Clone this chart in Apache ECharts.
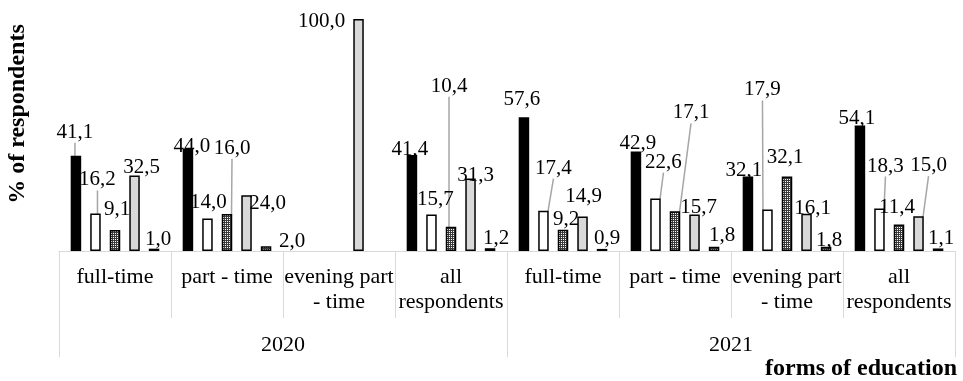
<!DOCTYPE html>
<html><head><meta charset="utf-8">
<script src="https://cdn.jsdelivr.net/npm/echarts@6/dist/echarts.min.js"></script>
<style>html,body{margin:0;padding:0;background:#fff}#c{width:963px;height:381px}</style>
</head><body><div id="c"></div>
<script>
// ---- data ----
const categories = ['full-time', 'part - time', 'evening part\n- time', 'all\nrespondents',
                    'full-time', 'part - time', 'evening part\n- time', 'all\nrespondents'];
const years = ['2020', '2021'];
const series1 = [41.1, 44.0, null, 41.4, 57.6, 42.9, 32.1, 54.1];
const series2 = [16.2, 14.0, null, 15.7, 17.4, 22.6, 17.9, 18.3];
const series3 = [9.1, 16.0, null, 10.4, 9.2, 17.1, 32.1, 11.4];
const series4 = [32.5, 24.0, 100.0, 31.3, 14.9, 15.7, 16.1, 15.0];
const series5 = [1.0, 2.0, null, 1.2, 0.9, 1.8, 1.8, 1.1];
const yAxisTitle = '% of respondents';
const xAxisTitle = 'forms of education';

// ---- label placement (style) ----
const labelOffsets = [
  [[-1,-8],[4,13],[0,0],[-2,10],[-2,-2],[2,8],[-4,9],[-3,8]],
  [[2,-18],[1,-1],[0,0],[4,0],[10,-27],[8,-21],[-5,-104],[6,-27]],
  [[2,-5],[5,-50],[0,0],[-2,-125],[3,5],[16,-83],[-2,-4],[-2,-2]],
  [[7,7],[21,24],[-37,18],[5,13],[1,-4],[4,8],[6,10],[10,-35]],
  [[4,6],[26,11],[0,0],[6,6],[5,5],[8,4],[3,9],[3,6]]
];
const leaderLines = [
  [1,0,0,0,0,0,0,0],
  [1,0,0,0,1,1,1,1],
  [0,1,0,1,0,1,0,0],
  [0,0,0,0,0,0,0,1],
  [0,0,0,0,0,0,0,0]
];

function makePattern() {
  const c = document.createElement('canvas');
  c.width = 4; c.height = 4;
  const ctx = c.getContext('2d');
  ctx.fillStyle = '#3a3a3a';
  ctx.fillRect(0, 0, 4, 4);
  ctx.fillStyle = '#ffffff';
  [[1,1],[3,3],[1,3],[3,1]].forEach(p => ctx.fillRect(p[0], p[1], 1, 1));
  return c;
}
const pattern = { image: makePattern(), repeat: 'repeat' };

const FONT = '"Liberation Serif", "Times New Roman", serif';
const fills = ['#000000', '#ffffff', pattern, '#d9d9d9', pattern];
const allSeries = [series1, series2, series3, series4, series5];

const fmt = v => v.toFixed(1).replace('.', ',');

const chart = echarts.init(document.getElementById('c'), null, { renderer: 'canvas' });
chart.setOption({
  animation: false,
  backgroundColor: '#ffffff',
  grid: { left: 59, right: 8, top: 19, bottom: 130, containLabel: false },
  xAxis: [
    {
      type: 'category', data: categories, position: 'bottom',
      axisLine: { show: true, lineStyle: { color: '#d9d9d9', width: 1 } },
      axisTick: { show: true, interval: 0, length: 67, lineStyle: { color: '#d9d9d9', width: 1 } },
      axisLabel: { interval: 0, margin: 14, fontSize: 22, lineHeight: 25, verticalAlign: 'top',
                   color: '#000', fontFamily: FONT }
    },
    {
      type: 'category', data: years, position: 'bottom', offset: 0,
      axisLine: { show: false },
      axisTick: { show: true, interval: 0, length: 106, lineStyle: { color: '#d9d9d9', width: 1 } },
      axisLabel: { interval: 0, margin: 83, fontSize: 22, lineHeight: 22, verticalAlign: 'top',
                   color: '#000', fontFamily: FONT }
    }
  ],
  yAxis: {
    type: 'value', min: 0, max: 100,
    axisLine: { show: false }, axisTick: { show: false },
    axisLabel: { show: false }, splitLine: { show: false }
  },
  series: allSeries.map((arr, si) => ({
    type: 'bar',
    name: 'series' + (si + 1),
    xAxisIndex: 0,
    barWidth: 10.5,
    barGap: '86%',
    itemStyle: { color: fills[si], borderColor: '#000', borderWidth: 1.5 },
    label: {
      show: true, position: 'top', distance: 5,
      fontSize: 21, fontFamily: FONT, color: '#000',
      formatter: p => fmt(p.value)
    },
    labelLine: { show: true, lineStyle: { color: '#a6a6a6', width: 1.5 } },
    labelLayout: params => {
      const o = labelOffsets[si][params.dataIndex] || [0, 0];
      return { dx: o[0], dy: o[1] };
    },
    data: arr.map((v, i) => v === null ? '-' : {
      value: v,
      labelLine: { show: !!leaderLines[si][i] }
    })
  })),
  graphic: [
    {
      type: 'text', x: 18, y: 114, rotation: Math.PI / 2,
      style: { text: yAxisTitle, font: 'bold 24px ' + FONT, fill: '#000',
               textAlign: 'center', textVerticalAlign: 'middle' }
    },
    {
      type: 'text', x: 957, y: 369,
      style: { text: xAxisTitle, font: 'bold 24px ' + FONT, fill: '#000',
               textAlign: 'right', textVerticalAlign: 'middle' }
    }
  ]
});
</script>
</body></html>
